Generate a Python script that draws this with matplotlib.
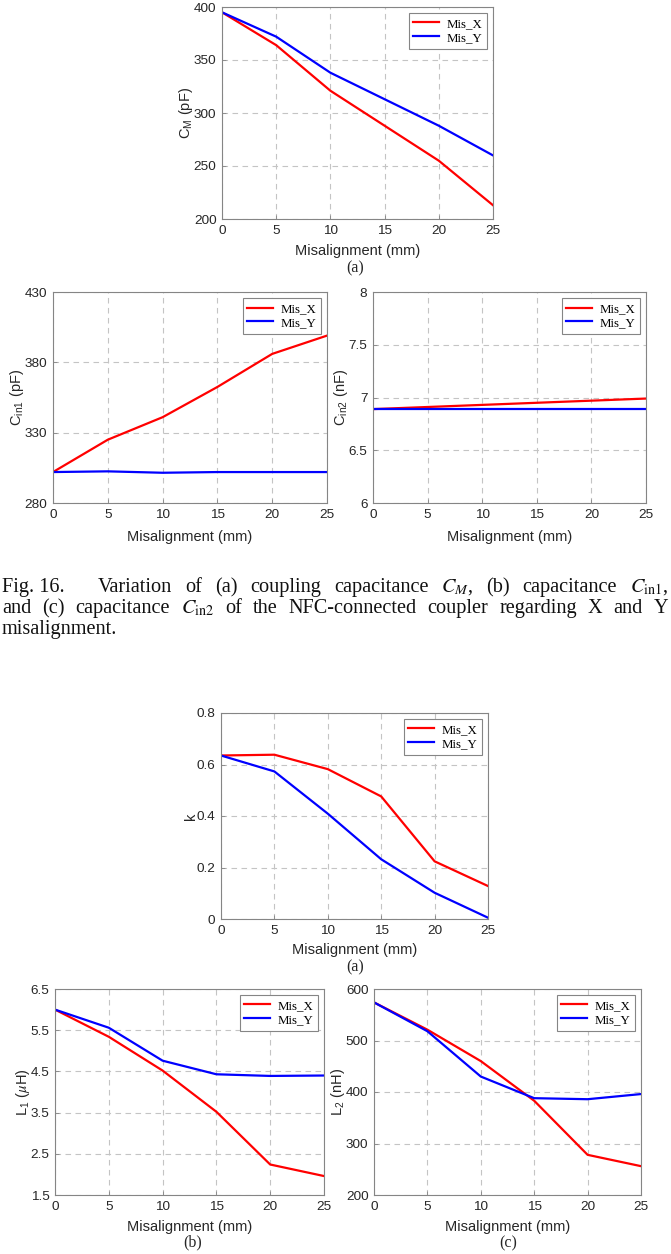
import matplotlib
matplotlib.use("Agg")
import matplotlib.pyplot as plt
from matplotlib.transforms import IdentityTransform

plt.rcParams['mathtext.fontset'] = 'stix'
plt.rcParams['font.family'] = ['Liberation Sans', 'DejaVu Sans']

# ---------------- data ----------------
mis = [0, 5, 10, 15, 20, 25]

cm_x = [395, 364, 321, 288, 255, 213]
cm_y = [395, 372, 338, 313, 288, 260]

cin1_x = [302, 325, 341, 362.5, 386, 399]
cin1_y = [302, 302.5, 301.5, 302, 302, 302]

cin2_x = [6.89, 6.91, 6.93, 6.95, 6.97, 6.99]
cin2_y = [6.89, 6.89, 6.89, 6.89, 6.89, 6.89]

k_x = [0.635, 0.638, 0.582, 0.476, 0.224, 0.128]
k_y = [0.635, 0.573, 0.409, 0.232, 0.102, 0.005]

l1_x = [6.0, 5.34, 4.52, 3.52, 2.24, 1.96]
l1_y = [6.0, 5.56, 4.76, 4.43, 4.39, 4.40]

l2_x = [574, 521, 460, 383, 278, 256]
l2_y = [574, 518, 430, 388, 386, 396]

xticks = [0, 5, 10, 15, 20, 25]
series_names = ['Mis_X', 'Mis_Y']

W, H = 671, 1254
fig = plt.figure(figsize=(W / 100, H / 100), dpi=100)


def make_ax(left, right, top, bottom):
    return fig.add_axes([left / W, 1 - bottom / H, (right - left) / W, (bottom - top) / H])


TXT = '#262626'
SPINE = '#858585'


def style(ax, ylabel, ylim, yticks, yticklabels=None, xlabelpad=5.5):
    ax.set_xlim(0, 25)
    ax.set_ylim(*ylim)
    ax.set_xticks(xticks)
    ax.set_yticks(yticks)
    if yticklabels is not None:
        ax.set_yticklabels(yticklabels)
    ax.grid(True, color='#c4c4c4', linestyle=(0, (5, 4)), linewidth=0.8)
    ax.set_axisbelow(True)
    for s in ax.spines.values():
        s.set_color(SPINE)
        s.set_linewidth(0.8)
    ax.tick_params(direction='in', length=3, width=0.6, color=SPINE,
                   labelsize=9.7, labelcolor=TXT, pad=4)
    ax.set_xlabel('Misalignment (mm)', fontsize=10.5, color=TXT, labelpad=xlabelpad)
    ax.set_ylabel(ylabel, fontsize=10.5, color=TXT, labelpad=-1)
    leg = ax.legend(loc='upper right', prop={'family': 'Liberation Serif', 'size': 9.3},
                    frameon=True, fancybox=False, edgecolor=SPINE, framealpha=1,
                    handlelength=2.0, handletextpad=0.55, borderpad=0.35, labelspacing=0.15,
                    borderaxespad=0.5)
    leg.get_frame().set_linewidth(0.8)


def plot_pair(ax, yx, yy):
    ax.plot(mis, yx, color='#ff0000', lw=1.6, label=series_names[0])
    ax.plot(mis, yy, color='#0000ff', lw=1.6, label=series_names[1])


def sublabel(x, y, s):
    fig.text(x / W, 1 - y / H, s, ha='center', va='center', fontsize=11.5,
             family='Liberation Serif', color=TXT)


# (a) C_M
ax1 = make_ax(222, 493, 7, 219)
plot_pair(ax1, cm_x, cm_y)
style(ax1, r'C$_\mathregular{M}$ (pF)', (200, 400), [200, 250, 300, 350, 400])
sublabel(355, 268, '(a)')

# (b) Cin1
ax2 = make_ax(53, 327, 292, 503)
plot_pair(ax2, cin1_x, cin1_y)
style(ax2, r'C$_\mathregular{in1}$ (pF)', (280, 430), [280, 330, 380, 430], xlabelpad=7)

# (c) Cin2
ax3 = make_ax(373, 646, 292, 503)
plot_pair(ax3, cin2_x, cin2_y)
style(ax3, r'C$_\mathregular{in2}$ (nF)', (6, 8), [6, 6.5, 7, 7.5, 8], ['6', '6.5', '7', '7.5', '8'],
      xlabelpad=7)

# k
ax4 = make_ax(221, 488, 713, 919)
plot_pair(ax4, k_x, k_y)
style(ax4, 'k', (0, 0.8), [0, 0.2, 0.4, 0.6, 0.8], ['0', '0.2', '0.4', '0.6', '0.8'], xlabelpad=4.5)
sublabel(355, 967, '(a)')

# L1
ax5 = make_ax(55, 324, 989, 1195)
plot_pair(ax5, l1_x, l1_y)
style(ax5, r'L$_\mathregular{1}$ ($\mu$H)', (1.5, 6.5), [1.5, 2.5, 3.5, 4.5, 5.5, 6.5])
sublabel(193, 1242, '(b)')

# L2
ax6 = make_ax(374, 641, 989, 1195)
plot_pair(ax6, l2_x, l2_y)
style(ax6, r'L$_\mathregular{2}$ (nH)', (200, 600), [200, 300, 400, 500, 600])
sublabel(508, 1243, '(c)')

# ---------------- caption (justified) ----------------
renderer = fig.canvas.get_renderer()
CAP_SIZE = 14.6


def caption_line(tokens, weights, y_base, x0, x1, justify=True):
    texts = []
    for t in tokens:
        tx = fig.text(0, H - y_base, t, fontsize=CAP_SIZE, family='Liberation Serif',
                      color='#111111', ha='left', va='baseline', transform=IdentityTransform())
        texts.append(tx)
    widths = [tx.get_window_extent(renderer).width for tx in texts]
    if justify:
        gap_total = (x1 - x0) - sum(widths)
        unit = gap_total / sum(weights)
    else:
        unit = CAP_SIZE * 100 / 72 * 0.25
    x = x0
    for i, tx in enumerate(texts):
        tx.set_x(x)
        x += widths[i]
        if i < len(weights):
            x += unit * weights[i]


l1 = ['Fig. 16.', 'Variation', 'of', '(a)', 'coupling', 'capacitance', r'$C_M$,', '(b)',
      'capacitance', r'$C_{\mathrm{in}1}$,']
w1 = [2.6] + [1] * (len(l1) - 2)
caption_line(l1, w1, 592, 2, 668)

l2 = ['and', '(c)', 'capacitance', r'$C_{\mathrm{in}2}$', 'of', 'the', 'NFC-connected', 'coupler',
      'regarding', 'X', 'and', 'Y']
caption_line(l2, [1] * (len(l2) - 1), 613, 2, 668)

caption_line(['misalignment.'], [], 634, 2, 668, justify=False)

fig.savefig('out.png', dpi=100)
